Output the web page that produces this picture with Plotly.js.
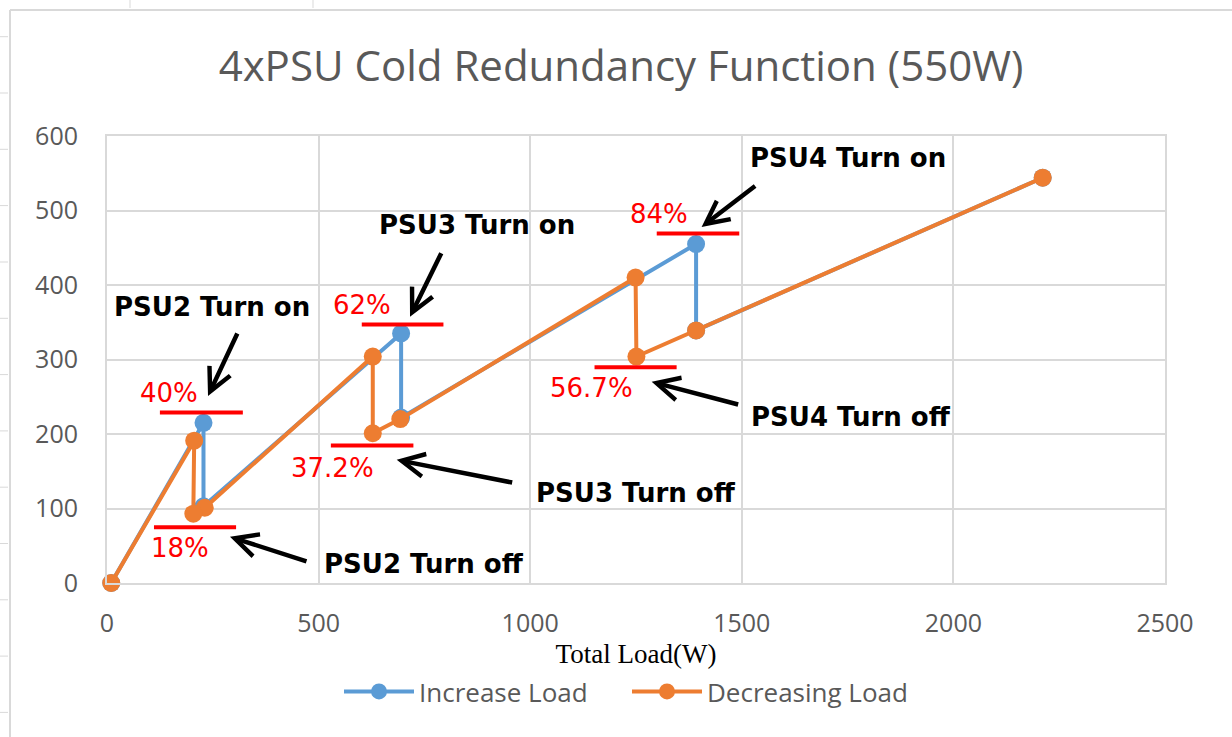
<!DOCTYPE html>
<html><head><meta charset="utf-8">
<script src="https://cdn.plot.ly/plotly-3.0.1.min.js"></script>
<style>html,body{margin:0;padding:0;background:#fff}#chart{width:1232px;height:737px}</style>
</head><body><div id="chart"></div>
<script>
// ---- data ----
const increaseX = [10, 228, 228, 695, 695, 1392, 1392, 2211];
const increaseY = [0, 215, 103, 335, 222, 455, 339, 544];
const decreaseX = [2211, 1392, 1251, 1249, 693, 628, 628, 231, 204, 206, 10];
const decreaseY = [544, 339, 304, 410, 220, 201, 304, 101, 93, 191, 0];
const xTickVals = [0, 500, 1000, 1500, 2000, 2500];
const yTickVals = [0, 100, 200, 300, 400, 500, 600];
const seriesNames = ['Increase Load', 'Decreasing Load'];
const thresholdLabels = ['40%', '18%', '62%', '37.2%', '84%', '56.7%'];
const thresholdLevels = [229, 75, 347, 184.5, 469, 289.5];
const eventLabels = ['PSU2 Turn on', 'PSU2 Turn off', 'PSU3 Turn on', 'PSU3 Turn off', 'PSU4 Turn on', 'PSU4 Turn off'];

// ---- layout helpers ----
const L = 107, R = 67, T = 136, B = 154, W = 1232, H = 737;
const pw = W - L - R, ph = H - T - B;
const px2x = p => (p - L) / pw;           // paper x
const py2y = p => (H - B - p) / ph;       // paper y

const thrSpan = [[125, 321], [111, 305], [602, 795], [529, 724], [1299, 1494], [1152, 1346]];
const thrText = [[146.5, 255], [172.5, 47], [602, 373], [533, 154], [1305, 495], [1145, 262]];
const evText = [[249, 371], [750, 25], [875, 480], [1251, 121], [1752, 570], [1757, 223]];
const evArrow = [ // tip x, tip y (data), ax, ay (px)
  [238.7, 251, 30, -64], [290.6, 62, 78, 25], [716, 357.4, 32, -65],
  [684.5, 165.3, 117, 23], [1405, 478, 55, -42], [1287, 270, 88, 23]
];

const shapes = [];
thresholdLevels.forEach((lv, i) => {
  shapes.push({type: 'line', xref: 'x', yref: 'y', x0: thrSpan[i][0], x1: thrSpan[i][1], y0: lv, y1: lv,
    line: {color: '#FF0000', width: 4}});
});
// chart frame (outer border)
shapes.push({type: 'line', xref: 'paper', yref: 'paper', x0: px2x(10), x1: px2x(10), y0: py2y(10), y1: py2y(737), line: {color: '#D9D9D9', width: 2}});
shapes.push({type: 'line', xref: 'paper', yref: 'paper', x0: px2x(10), x1: px2x(1232), y0: py2y(10), y1: py2y(10), line: {color: '#D9D9D9', width: 2}});
[36.7, 93, 149.3, 205.6, 262, 318.3, 374.6, 430.9, 487.2, 543.5, 599.8, 656.1, 712.4].forEach(y => {
  shapes.push({type: 'line', xref: 'paper', yref: 'paper', x0: px2x(0), x1: px2x(8), y0: py2y(y), y1: py2y(y), line: {color: '#D9D9D9', width: 1}});
});
[130, 313].forEach(x => {
  shapes.push({type: 'line', xref: 'paper', yref: 'paper', x0: px2x(x), x1: px2x(x), y0: py2y(0), y1: py2y(8), line: {color: '#D9D9D9', width: 1}});
});

const annotations = [];
thresholdLabels.forEach((t, i) => {
  annotations.push({x: thrText[i][0], y: thrText[i][1], xref: 'x', yref: 'y', text: t, showarrow: false,
    font: {family: 'DejaVu Sans', size: 26, color: '#FF0000'}, xanchor: 'center', yanchor: 'middle'});
});
eventLabels.forEach((t, i) => {
  annotations.push({x: evText[i][0], y: evText[i][1], xref: 'x', yref: 'y', text: t, showarrow: false,
    font: {family: 'DejaVu Sans', size: 26, color: '#000000', weight: 'bold'}, xanchor: 'center', yanchor: 'middle'});
  const a = evArrow[i];
  annotations.push({x: a[0], y: a[1], xref: 'x', yref: 'y', ax: a[2], ay: a[3], text: '', showarrow: true,
    arrowhead: 5, arrowsize: 1, arrowwidth: 4.5, arrowcolor: '#000000', standoff: 0});
});

const traces = [
  {x: increaseX, y: increaseY, name: seriesNames[0], type: 'scatter', mode: 'lines+markers',
   line: {color: '#5B9BD5', width: 4}, marker: {color: '#5B9BD5', size: 18}, cliponaxis: false},
  {x: decreaseX, y: decreaseY, name: seriesNames[1], type: 'scatter', mode: 'lines+markers',
   line: {color: '#ED7D31', width: 4}, marker: {color: '#ED7D31', size: 18}, cliponaxis: false}
];

const axisCommon = {showgrid: true, gridcolor: '#D9D9D9', gridwidth: 2, zeroline: false,
  showline: true, mirror: true, linecolor: '#D9D9D9', linewidth: 2, ticks: '',
  tickfont: {family: 'Open Sans', size: 25, color: '#595959'}, fixedrange: true};

const layout = {
  width: W, height: H, margin: {l: L, r: R, t: T, b: B},
  paper_bgcolor: '#FFFFFF', plot_bgcolor: '#FFFFFF',
  title: {text: '4xPSU Cold Redundancy Function (550W)', font: {family: 'Open Sans', size: 42, color: '#595959'},
    xref: 'container', yref: 'container', x: 621 / W, y: 1 - 66 / H, xanchor: 'center', yanchor: 'middle'},
  xaxis: Object.assign({}, axisCommon, {range: [0, 2500], tickvals: xTickVals, ticktext: xTickVals.map(String),
    ticklabelstandoff: 17,
    title: {text: 'Total Load(W)', font: {family: 'Liberation Serif', size: 27, color: '#000000'}, standoff: 0}}),
  yaxis: Object.assign({}, axisCommon, {range: [0, 600], tickvals: yTickVals, ticktext: yTickVals.map(String),
    ticklabelstandoff: 22}),
  showlegend: true,
  legend: {orientation: 'h', x: px2x(339), xanchor: 'left', y: py2y(691.5), yanchor: 'middle',
    font: {family: 'Open Sans', size: 26, color: '#595959'}, itemwidth: 70, entrywidth: 203, entrywidthmode: 'pixels',
    bgcolor: 'rgba(0,0,0,0)'},
  shapes: shapes, annotations: annotations
};

Plotly.newPlot('chart', traces, layout, {displayModeBar: false, staticPlot: true});
</script></body></html>
